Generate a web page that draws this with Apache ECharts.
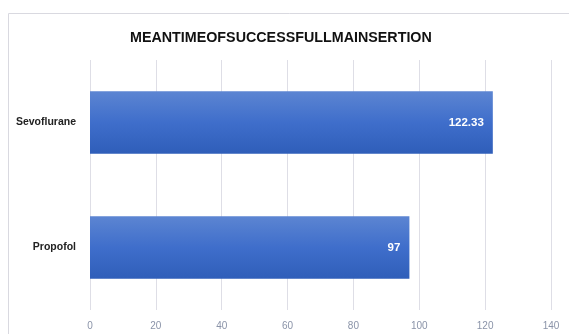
<!DOCTYPE html>
<html><head><meta charset="utf-8">
<script src="https://cdn.jsdelivr.net/npm/echarts@6/dist/echarts.min.js"></script>
<style>html,body{margin:0;padding:0;background:#fff}#c{width:569px;height:334px}</style>
</head><body><div id="c"></div>
<script>
const categories = ['Propofol', 'Sevoflurane'];
const values = [97, 122.33];
const titleText = 'MEANTIMEOFSUCCESSFULLMAINSERTION';
const chart = echarts.init(document.getElementById('c'));
chart.setOption({
  animation: false,
  graphic: [{type: 'rect', shape: {x: 8.5, y: 13.5, width: 600, height: 400}, style: {fill: 'none', stroke: '#d9d9e0', lineWidth: 1}}],
  title: {text: titleText, left: 125, top: 26, textStyle: {fontFamily: 'Liberation Sans', fontWeight: 'bold', fontSize: 14.3, color: '#111'}},
  grid: {left: 90, right: 18, top: 60, bottom: 24},
  xAxis: {type: 'value', min: 0, max: 140, interval: 20,
    axisLine: {show: false}, axisTick: {show: false},
    splitLine: {lineStyle: {color: '#dedee6', width: 1}},
    axisLabel: {color: '#8a93a8', fontSize: 10, fontFamily: 'Liberation Sans', margin: 11}},
  yAxis: {type: 'category', data: categories,
    axisLine: {show: false}, axisTick: {show: false},
    axisLabel: {color: '#222', fontSize: 10.5, fontWeight: 'bold', fontFamily: 'Liberation Sans', margin: 14}},
  series: [{type: 'bar', data: values, barWidth: '50%',
    itemStyle: {color: new echarts.graphic.LinearGradient(0, 0, 0, 1, [{offset: 0, color: '#5c85d2'}, {offset: 0.5, color: '#3f6ecb'}, {offset: 1, color: '#2f5eb9'}])},
    label: {show: true, position: 'insideRight', color: '#fff', fontWeight: 'bold', fontSize: 11.5, fontFamily: 'Liberation Sans', distance: 9}}]
});
</script></body></html>
